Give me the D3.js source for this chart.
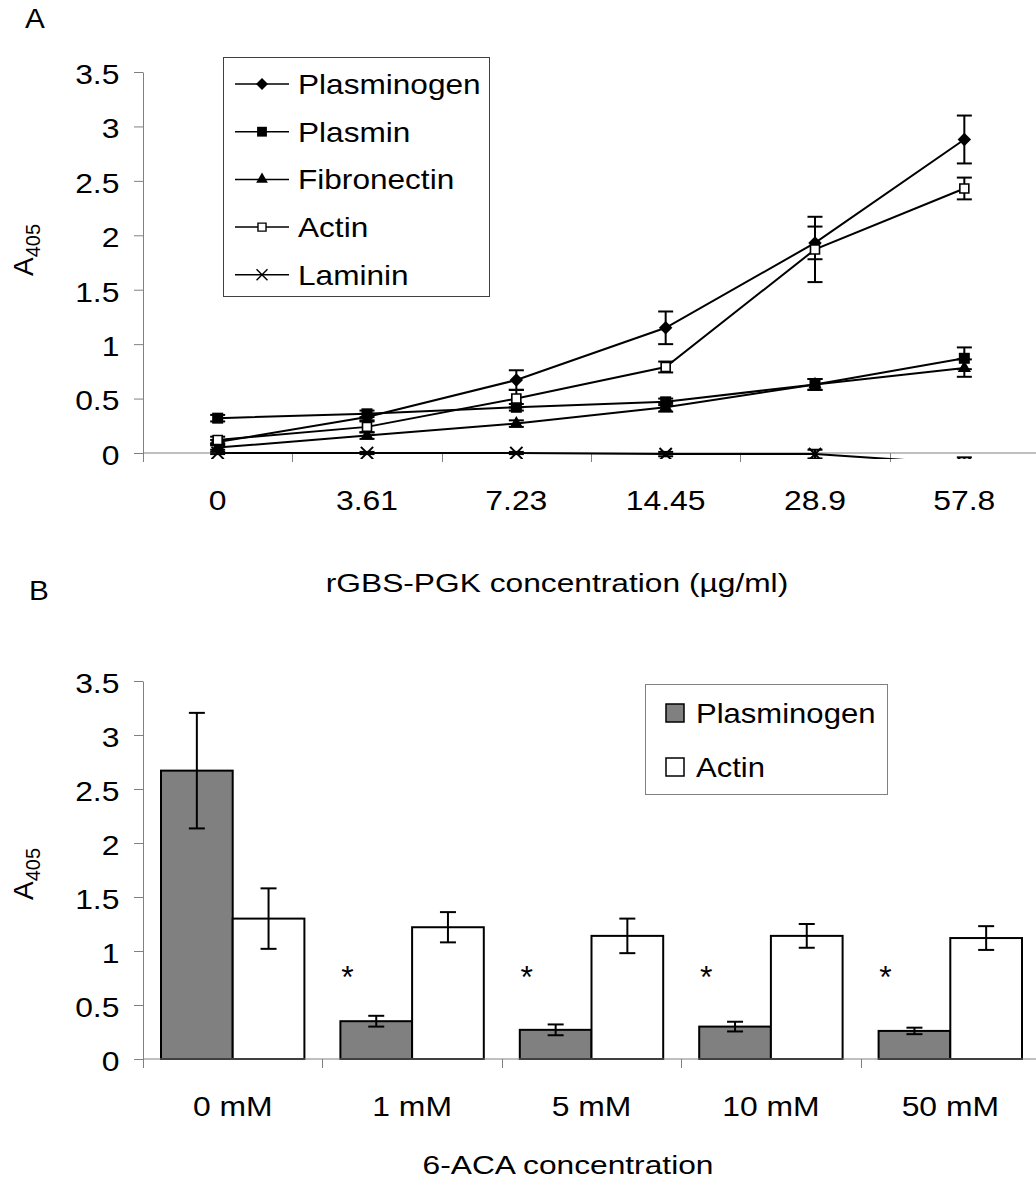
<!DOCTYPE html>
<html>
<head>
<meta charset="utf-8">
<script src="https://cdn.jsdelivr.net/npm/d3@7"></script>
<style>
  body { margin: 0; background: #fff; }
  text { font-family: "Liberation Sans", Arial, sans-serif; fill: #000; }
</style>
</head>
<body>
<div id="chart"></div>
<script>
// Panel A data
const concA = ["0", "3.61", "7.23", "14.45", "28.9", "57.8"];
const plasminogenA = [0.10, 0.33, 0.67, 1.15, 1.93, 2.88];
const plasminogenAErr = [0.02, 0.03, 0.09, 0.15, 0.15, 0.22];
const plasminA = [0.32, 0.36, 0.42, 0.47, 0.63, 0.87];
const plasminAErr = [0.03, 0.03, 0.03, 0.03, 0.05, 0.10];
const fibronectinA = [0.05, 0.16, 0.27, 0.42, 0.63, 0.78];
const fibronectinAErr = [0.02, 0.03, 0.03, 0.04, 0.05, 0.08];
const actinA = [0.12, 0.24, 0.50, 0.79, 1.87, 2.43];
const actinAErr = [0.03, 0.05, 0.08, 0.05, 0.30, 0.10];
const lamininA = [0.0, 0.0, 0.0, -0.01, -0.01, -0.10];
const lamininAErr = [0.01, 0.01, 0.01, 0.02, 0.04, 0.06];

// Panel B data
const catsB = ["0 mM", "1 mM", "5 mM", "10 mM", "50 mM"];
const plasminogenB = [2.67, 0.35, 0.27, 0.30, 0.26];
const plasminogenBErr = [0.535, 0.05, 0.05, 0.045, 0.03];
const actinB = [1.30, 1.22, 1.14, 1.14, 1.12];
const actinBErr = [0.28, 0.14, 0.16, 0.11, 0.11];
const significantB = [false, true, true, true, true];

const yTicks = [0, 0.5, 1, 1.5, 2, 2.5, 3, 3.5];
const yTickLabels = ["0", "0.5", "1", "1.5", "2", "2.5", "3", "3.5"];

const W = 1036, H = 1181;
const SX = 1.18; // the original figure is stretched horizontally

const svg = d3.select("#chart").append("svg")
    .attr("width", W)
    .attr("height", H);

svg.append("rect").attr("width", W).attr("height", H).attr("fill", "#fff");

function label(x, y, str, size, anchor, sx) {
    return svg.append("text")
        .attr("transform", `translate(${x},${y}) scale(${sx || SX},1)`)
        .attr("text-anchor", anchor || "start")
        .attr("font-size", size)
        .text(str);
}

function yTitle(x, y) {
    const t = svg.append("text")
        .attr("transform", `translate(${x},${y}) rotate(-90)`)
        .attr("text-anchor", "middle")
        .attr("font-size", 28);
    t.append("tspan").text("A");
    t.append("tspan").attr("font-size", 20).attr("dy", 7).text("405");
}

function styleYAxis(g) {
    g.select(".domain").attr("stroke", "#808080");
    g.selectAll(".tick line").attr("stroke", "#808080");
    g.selectAll(".tick text")
        .attr("font-size", 27)
        .attr("font-family", "Liberation Sans, Arial, sans-serif")
        .attr("dy", "0.42em")
        .attr("transform", `scale(${SX},1)`);
}

// ---------------- Panel A ----------------
const yA = d3.scaleLinear().domain([0, 3.5]).range([453, 72]);
const xA = d3.scaleBand().domain(concA).range([143, 1039]);
const cxA = i => xA(concA[i]) + xA.bandwidth() / 2;

label(25, 28, "A", 27, "start", 1.1);

svg.append("g")
    .attr("transform", "translate(143,0)")
    .call(d3.axisLeft(yA).tickValues(yTicks).tickFormat((d, i) => yTickLabels[i])
        .tickSize(9).tickSizeOuter(0).tickPadding(11))
    .call(styleYAxis);

// x axis line and boundary ticks
svg.append("line")
    .attr("x1", 143).attr("x2", W)
    .attr("y1", yA(0)).attr("y2", yA(0))
    .attr("stroke", "#808080");
svg.append("g").selectAll("line")
    .data(concA)
    .join("line")
    .attr("x1", d => Math.round(xA(d)) + 0.5).attr("x2", d => Math.round(xA(d)) + 0.5)
    .attr("y1", yA(0)).attr("y2", yA(0) + 9)
    .attr("stroke", "#808080");

const xAxisA = svg.append("g")
    .attr("transform", `translate(0,${yA(0)})`)
    .call(d3.axisBottom(xA).tickSize(0).tickPadding(38));
xAxisA.select(".domain").remove();
xAxisA.selectAll("text")
    .attr("font-size", 27)
    .attr("font-family", "Liberation Sans, Arial, sans-serif")
    .attr("transform", `scale(${SX},1)`);

label(557, 592, "rGBS-PGK concentration (\u00b5g/ml)", 26, "middle", 1.22);
yTitle(33, 250);

svg.append("clipPath").attr("id", "clipA")
    .append("rect").attr("x", 143).attr("y", 40).attr("width", W - 143).attr("height", 459 - 40);

const timesSym = d3.symbolTimes || d3.symbolCross;
const seriesA = [
    { name: "Plasminogen", values: plasminogenA, err: plasminogenAErr, type: d3.symbolSquare, size: 90, rot: 45, fill: "#000", sw: 0 },
    { name: "Plasmin", values: plasminA, err: plasminAErr, type: d3.symbolSquare, size: 121, rot: 0, fill: "#000", sw: 0 },
    { name: "Fibronectin", values: fibronectinA, err: fibronectinAErr, type: d3.symbolTriangle, size: 75, rot: 0, fill: "#000", sw: 0 },
    { name: "Actin", values: actinA, err: actinAErr, type: d3.symbolSquare, size: 81, rot: 0, fill: "#fff", sw: 1.6 },
    { name: "Laminin", values: lamininA, err: lamininAErr, type: timesSym, size: 100, rot: 0, fill: "none", sw: 2 }
];

const plotA = svg.append("g").attr("clip-path", "url(#clipA)");
const lineA = d3.line().x((d, i) => cxA(i)).y(d => yA(d));

seriesA.forEach(s => {
    const g = plotA.append("g");
    g.append("path")
        .datum(s.values)
        .attr("fill", "none")
        .attr("stroke", "#000")
        .attr("stroke-width", 2)
        .attr("d", lineA);

    const eb = g.selectAll(".eb").data(s.values).join("g");
    eb.append("line")
        .attr("x1", (d, i) => cxA(i)).attr("x2", (d, i) => cxA(i))
        .attr("y1", (d, i) => yA(d + s.err[i])).attr("y2", (d, i) => yA(d - s.err[i]))
        .attr("stroke", "#000").attr("stroke-width", 2);
    [1, -1].forEach(sign => {
        eb.append("line")
            .attr("x1", (d, i) => cxA(i) - 7.5).attr("x2", (d, i) => cxA(i) + 7.5)
            .attr("y1", (d, i) => yA(d + sign * s.err[i])).attr("y2", (d, i) => yA(d + sign * s.err[i]))
            .attr("stroke", "#000").attr("stroke-width", 2);
    });

    g.selectAll(".mk").data(s.values).join("path")
        .attr("d", d3.symbol(s.type, s.size))
        .attr("transform", (d, i) => `translate(${cxA(i)},${yA(d)}) rotate(${s.rot})`)
        .attr("fill", s.fill)
        .attr("stroke", s.sw ? "#000" : "none")
        .attr("stroke-width", s.sw);
});

// Legend A
const legA = svg.append("g");
legA.append("rect")
    .attr("x", 223.5).attr("y", 57.5).attr("width", 266).attr("height", 239)
    .attr("fill", "#fff").attr("stroke", "#404040");
seriesA.forEach((s, i) => {
    const ly = 84 + i * 47.7;
    legA.append("line")
        .attr("x1", 235).attr("x2", 289).attr("y1", ly).attr("y2", ly)
        .attr("stroke", "#000").attr("stroke-width", 1.5);
    legA.append("path")
        .attr("d", d3.symbol(s.type, s.size * 0.8))
        .attr("transform", `translate(262,${ly}) rotate(${s.rot})`)
        .attr("fill", s.fill)
        .attr("stroke", s.sw ? "#000" : "none")
        .attr("stroke-width", s.sw ? 1.4 : 0);
    legA.append("text")
        .attr("transform", `translate(298,${ly + 10}) scale(1.17,1)`)
        .attr("font-size", 27)
        .text(s.name);
});

// ---------------- Panel B ----------------
const yB = d3.scaleLinear().domain([0, 3.5]).range([1059, 681]);
const xB = d3.scaleBand().domain(catsB).range([143, 1040]);
const seriesB = [
    { name: "Plasminogen", values: plasminogenB, err: plasminogenBErr, fill: "#808080" },
    { name: "Actin", values: actinB, err: actinBErr, fill: "#fff" }
];
const x1 = d3.scaleBand().domain(seriesB.map(s => s.name)).range([18, xB.bandwidth() - 18]);

label(29, 600, "B", 27, "start", 1.1);

svg.append("g")
    .attr("transform", "translate(143,0)")
    .call(d3.axisLeft(yB).tickValues(yTicks).tickFormat((d, i) => yTickLabels[i])
        .tickSize(9).tickSizeOuter(0).tickPadding(11))
    .call(styleYAxis);

const bars = svg.append("g");
seriesB.forEach(s => {
    bars.selectAll(null).data(s.values).join("rect")
        .attr("x", (d, i) => xB(catsB[i]) + x1(s.name))
        .attr("y", d => yB(d))
        .attr("width", x1.bandwidth())
        .attr("height", d => yB(0) - yB(d))
        .attr("fill", s.fill)
        .attr("stroke", "#000")
        .attr("stroke-width", 2);
});
seriesB.forEach(s => {
    const cx = i => xB(catsB[i]) + x1(s.name) + x1.bandwidth() / 2;
    const eb = bars.selectAll(null).data(s.values).join("g");
    eb.append("line")
        .attr("x1", (d, i) => cx(i)).attr("x2", (d, i) => cx(i))
        .attr("y1", (d, i) => yB(d + s.err[i])).attr("y2", (d, i) => yB(d - s.err[i]))
        .attr("stroke", "#000").attr("stroke-width", 2);
    [1, -1].forEach(sign => {
        eb.append("line")
            .attr("x1", (d, i) => cx(i) - 8).attr("x2", (d, i) => cx(i) + 8)
            .attr("y1", (d, i) => yB(d + sign * s.err[i])).attr("y2", (d, i) => yB(d + sign * s.err[i]))
            .attr("stroke", "#000").attr("stroke-width", 2);
    });
});

// x axis B
svg.append("line")
    .attr("x1", 143).attr("x2", W)
    .attr("y1", yB(0)).attr("y2", yB(0))
    .attr("stroke", "#808080");
svg.append("g").selectAll("line")
    .data(catsB)
    .join("line")
    .attr("x1", d => Math.round(xB(d)) + 0.5).attr("x2", d => Math.round(xB(d)) + 0.5)
    .attr("y1", yB(0)).attr("y2", yB(0) + 9)
    .attr("stroke", "#808080");

const xAxisB = svg.append("g")
    .attr("transform", `translate(0,${yB(0)})`)
    .call(d3.axisBottom(xB).tickSize(0).tickPadding(38));
xAxisB.select(".domain").remove();
xAxisB.selectAll("text")
    .attr("font-size", 27)
    .attr("font-family", "Liberation Sans, Arial, sans-serif")
    .attr("transform", `scale(${SX},1)`);

// significance marks
svg.append("g").selectAll("text")
    .data(catsB.filter((c, i) => significantB[i]))
    .join("text")
    .attr("x", d => xB(d) + 25)
    .attr("y", 988)
    .attr("text-anchor", "middle")
    .attr("font-size", 32)
    .text("*");

label(568, 1174, "6-ACA concentration", 26, "middle", 1.22);
yTitle(33, 874);

// Legend B
const legB = svg.append("g");
legB.append("rect")
    .attr("x", 645.5).attr("y", 684.5).attr("width", 242).attr("height", 110)
    .attr("fill", "#fff").attr("stroke", "#808080");
seriesB.forEach((s, i) => {
    const ly = 713 + i * 54;
    legB.append("rect")
        .attr("x", 666).attr("y", ly - 9).attr("width", 18).attr("height", 18)
        .attr("fill", s.fill).attr("stroke", "#000").attr("stroke-width", 1.5);
    legB.append("text")
        .attr("transform", `translate(696,${ly + 10}) scale(1.15,1)`)
        .attr("font-size", 27)
        .text(s.name);
});
</script>
</body>
</html>
